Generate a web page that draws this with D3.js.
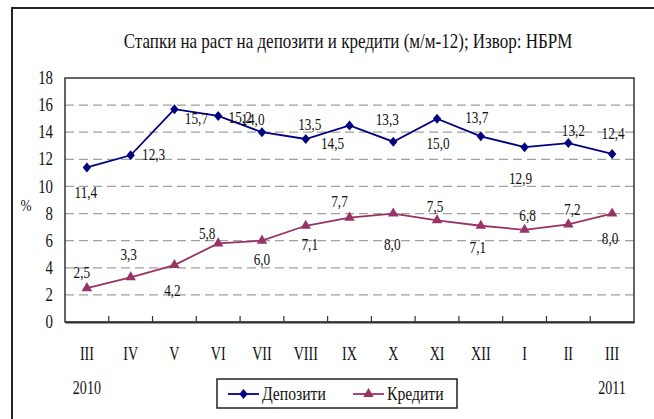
<!DOCTYPE html>
<html>
<head>
<meta charset="utf-8">
<script src="https://cdn.jsdelivr.net/npm/d3@7"></script>
<style>
  html, body { margin: 0; padding: 0; background: #fff; }
  svg text { font-family: 'Liberation Serif', 'Times New Roman', serif; fill: #111; }
</style>
</head>
<body>
<div id="chart"></div>
<script>
// data
const months = ['III', 'IV', 'V', 'VI', 'VII', 'VIII', 'IX', 'X', 'XI', 'XII', 'I', 'II', 'III']
const years = ['2010', '', '', '', '', '', '', '', '', '', '', '', '2011']
const deposits = [11.4, 12.3, 15.7, 15.2, 14.0, 13.5, 14.5, 13.3, 15.0, 13.7, 12.9, 13.2, 12.4]
const credits = [2.5, 3.3, 4.2, 5.8, 6.0, 7.1, 7.7, 8.0, 7.5, 7.1, 6.8, 7.2, 8.0]
const yTicks = [0, 2, 4, 6, 8, 10, 12, 14, 16, 18]

// where each value label sits relative to its point
const depLabelOffset = [[-1, 24], [23, -1], [22, 9], [22, 1], [-9, -13], [4, -15], [-17, 17], [-6, -23], [1, 24], [-4, -19], [-4, 31], [5, -13], [1, -21]]
const credLabelOffset = [[-5, -16], [-2, -23], [-2, 25], [-11, -11], [0, 18], [4, 18], [-10, -17], [-1, 30], [-2, -14], [-3, 21], [3, -15], [4, -16], [-2, 24]]

const width = 654
const height = 419
const plot = { left: 65, right: 634, top: 78, bottom: 322 }
const SX = 0.78 // narrow look of the original font

const svg = d3.select('#chart')
  .append('svg')
  .attr('width', width)
  .attr('height', height)

const fmt = v => d3.format('.1f')(v).replace('.', ',')

// text helper: places a horizontally squeezed label
function label(parent, x, y, txt, size, anchor = 'middle', sx = SX) {
  return parent.append('text')
    .attr('transform', `translate(${x},${y}) scale(${sx},1)`)
    .attr('text-anchor', anchor)
    .attr('dominant-baseline', 'central')
    .style('font-size', size + 'px')
    .text(txt)
}

// outer frame
svg.append('rect')
  .attr('x', 12).attr('y', 8)
  .attr('width', 700).attr('height', 500)
  .attr('fill', 'none')
  .attr('stroke', '#222')
  .attr('stroke-width', 2)

label(svg, 348, 41, 'Стапки на раст на депозити и кредити (м/м-12); Извор: НБРМ', 20, 'middle', 0.85)

const x = d3.scaleBand()
  .domain(d3.range(months.length))
  .range([plot.left, plot.right])

const y = d3.scaleLinear()
  .domain([0, 18])
  .range([plot.bottom, plot.top])

const cx = i => x(i) + x.bandwidth() / 2

// gridlines
svg.append('g')
  .selectAll('line')
  .data(yTicks.filter(t => t > 0 && t < 18))
  .join('line')
  .attr('x1', plot.left).attr('x2', plot.right)
  .attr('y1', d => y(d)).attr('y2', d => y(d))
  .attr('stroke', '#a0a0a0')
  .attr('stroke-width', 1.2)
  .attr('stroke-dasharray', '9,5')

// plot border
svg.append('rect')
  .attr('x', plot.left).attr('y', plot.top)
  .attr('width', plot.right - plot.left)
  .attr('height', plot.bottom - plot.top)
  .attr('fill', 'none')
  .attr('stroke', '#333')
  .attr('stroke-width', 1.5)

// x axis with inward ticks at category boundaries
svg.append('g')
  .attr('transform', `translate(0,${plot.bottom})`)
  .call(d3.axisBottom(x).tickSize(0).tickFormat(''))
  .call(g => g.select('.domain').attr('stroke', '#333').attr('stroke-width', 2))
svg.append('g')
  .selectAll('line')
  .data(d3.range(1, months.length))
  .join('line')
  .attr('x1', d => x(d)).attr('x2', d => x(d))
  .attr('y1', plot.bottom).attr('y2', plot.bottom - 6)
  .attr('stroke', '#333')
  .attr('stroke-width', 1.2)

months.forEach((m, i) => label(svg, cx(i), 354, m, 18))
years.forEach((yr, i) => { if (yr) label(svg, cx(i), 388, yr, 18) })

// y axis labels
yTicks.forEach(t => label(svg, 53, y(t), t, 19, 'end'))
label(svg, 26, 205, '%', 17)

// series
const series = [
  { name: 'Депозити', values: deposits, color: '#000080', shape: 'diamond', offs: depLabelOffset },
  { name: 'Кредити', values: credits, color: '#993366', shape: 'triangle', offs: credLabelOffset }
]

const diamond = { draw(ctx, s) { ctx.moveTo(0, -5); ctx.lineTo(4.2, 0); ctx.lineTo(0, 5); ctx.lineTo(-4.2, 0); ctx.closePath() } }
const symbolFor = shape => shape === 'diamond'
  ? d3.symbol(diamond, 1)()
  : d3.symbol(d3.symbolTriangle, 48)()

const line = d3.line()
  .x((d, i) => cx(i))
  .y(d => y(d))

series.forEach(s => {
  svg.append('path')
    .datum(s.values)
    .attr('d', line)
    .attr('fill', 'none')
    .attr('stroke', s.color)
    .attr('stroke-width', 1.8)

  svg.append('g')
    .selectAll('path')
    .data(s.values)
    .join('path')
    .attr('d', symbolFor(s.shape))
    .attr('transform', (d, i) => `translate(${cx(i)},${y(d)})`)
    .attr('fill', s.color)

  s.values.forEach((v, i) => {
    label(svg, cx(i) + s.offs[i][0], y(v) + s.offs[i][1], fmt(v), 17)
  })
})

// legend
const lg = svg.append('g')
lg.append('rect')
  .attr('x', 217).attr('y', 379)
  .attr('width', 240).attr('height', 29)
  .attr('fill', '#fff')
  .attr('stroke', '#222')
  .attr('stroke-width', 1.5)

const legendX = [228, 353]
series.forEach((s, k) => {
  const lx = legendX[k]
  lg.append('line')
    .attr('x1', lx).attr('x2', lx + 31)
    .attr('y1', 394).attr('y2', 394)
    .attr('stroke', s.color)
    .attr('stroke-width', 1.8)
  lg.append('path')
    .attr('d', symbolFor(s.shape))
    .attr('transform', `translate(${lx + 15.5},394)`)
    .attr('fill', s.color)
  label(lg, lx + 34, 394, s.name, 18, 'start', 0.87)
})
</script>
</body>
</html>
